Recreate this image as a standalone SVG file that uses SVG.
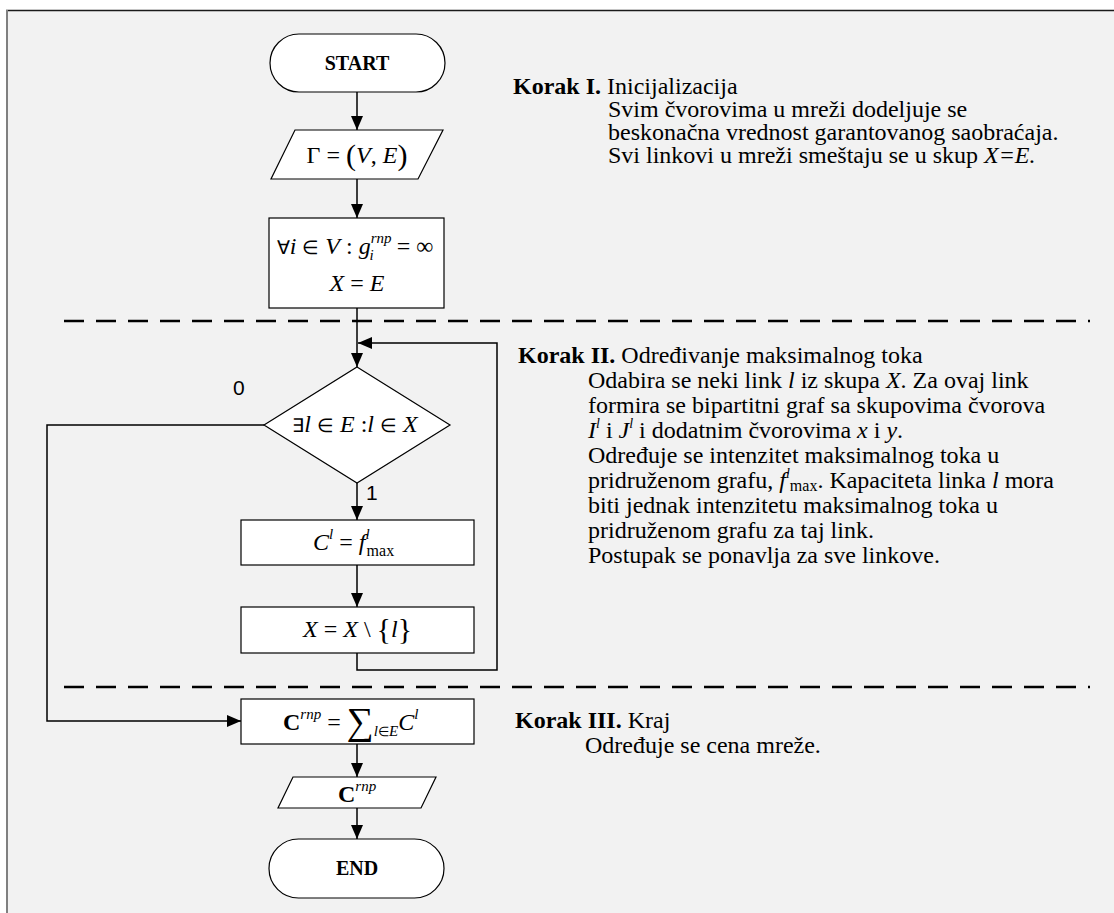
<svg xmlns="http://www.w3.org/2000/svg" width="1114" height="913" viewBox="0 0 1114 913">
  <defs>
    <marker id="arrow" viewBox="0 0 14 12" refX="14" refY="6" markerWidth="14" markerHeight="12" markerUnits="userSpaceOnUse" orient="auto">
      <path d="M0,0 L14,6 L0,12 Z" fill="#000"/>
    </marker>
    <style>
      .shape { fill: #fff; stroke: #000; stroke-width: 1.2; }
      .conn { fill: none; stroke: #000; stroke-width: 1.5; }
      .sep { fill: none; stroke: #000; stroke-width: 2.5; stroke-dasharray: 20 12; }
      .math { font-family: "Liberation Serif", "Times New Roman", serif; font-size: 24px; fill: #000; }
      .it { font-style: italic; }
      .op { font-size: 19px; }
      .term { font-family: "Liberation Serif", "Times New Roman", serif; font-size: 20px; font-weight: bold; fill: #000; }
      .desc { font-family: "Liberation Serif", "Times New Roman", serif; font-size: 24px; fill: #000; }
      .b { font-weight: bold; }
      .lbl { font-family: "Liberation Sans", Arial, sans-serif; font-size: 21px; fill: #000; }
    </style>
  </defs>

  <!-- page background and frame -->
  <rect x="0" y="0" width="1114" height="913" fill="#fff"/>
  <rect x="7" y="11" width="1107" height="902" fill="#f2f2f2"/>
  <line x1="6" y1="10.5" x2="1114" y2="10.5" stroke="#1a1a1a" stroke-width="1.5"/>
  <line x1="7" y1="10" x2="7" y2="913" stroke="#808080" stroke-width="2"/>

  <!-- phase separators -->
  <line class="sep" x1="64" y1="321" x2="1090" y2="321"/>
  <line class="sep" x1="64" y1="687" x2="1090" y2="687"/>

  <!-- connectors -->
  <g id="connectors">
    <path class="conn" d="M357,92 V130" marker-end="url(#arrow)"/>
    <path class="conn" d="M357,179 V218" marker-end="url(#arrow)"/>
    <path class="conn" d="M357,308 V367" marker-end="url(#arrow)"/>
    <path class="conn" d="M357,653 V670 H497 V343 H358" marker-end="url(#arrow)"/>
    <path class="conn" d="M357,483 V520" marker-end="url(#arrow)"/>
    <path class="conn" d="M357,565 V607" marker-end="url(#arrow)"/>
    <path class="conn" d="M264,425 H47 V721 H241" marker-end="url(#arrow)"/>
    <path class="conn" d="M357,744 V777" marker-end="url(#arrow)"/>
    <path class="conn" d="M357,808 V839" marker-end="url(#arrow)"/>
    <text class="lbl" x="233" y="395">0</text>
    <text class="lbl" x="366" y="500">1</text>
  </g>

  <!-- start -->
  <g id="start">
    <rect class="shape" x="270" y="34" width="175" height="58" rx="29" ry="29"/>
    <text class="term" x="357" y="70" text-anchor="middle">START</text>
  </g>

  <!-- input graph -->
  <g id="input-graph">
    <polygon class="shape" points="295,130 443,130 418,179 271,179"/>
    <text class="math" x="357" y="163" text-anchor="middle">Γ = <tspan font-size="30" dy="2">(</tspan><tspan class="it" dy="-2">V</tspan>, <tspan class="it">E</tspan><tspan font-size="30" dy="2">)</tspan></text>
  </g>

  <!-- initialization -->
  <g id="init">
    <rect class="shape" x="269" y="218" width="175" height="90"/>
    <text class="math" x="355" y="254" text-anchor="middle"><tspan class="op">∀</tspan><tspan class="it">i</tspan> <tspan class="op">∈</tspan> <tspan class="it">V</tspan> : <tspan class="it">g</tspan><tspan class="it" font-size="15" dy="-11">rnp</tspan><tspan class="it" font-size="15" dx="-22" dy="17">i</tspan><tspan dx="17" dy="-6"> = ∞</tspan></text>
    <text class="math" x="357" y="291" text-anchor="middle"><tspan class="it">X</tspan> = <tspan class="it">E</tspan></text>
  </g>

  <!-- decision -->
  <g id="decision">
    <polygon class="shape" points="357,367 450,425 357,483 264,425"/>
    <text class="math" x="355" y="432" text-anchor="middle"><tspan class="op">∃</tspan><tspan class="it">l</tspan> <tspan class="op">∈</tspan> <tspan class="it">E</tspan> :<tspan class="it">l</tspan> <tspan class="op">∈</tspan> <tspan class="it">X</tspan></text>
  </g>

  <!-- capacity -->
  <g id="capacity">
    <rect class="shape" x="241" y="520" width="233" height="45"/>
    <text class="math" x="313" y="550"><tspan class="it">C</tspan><tspan class="it" font-size="15" dy="-11">l</tspan><tspan dy="11"> = </tspan><tspan class="it">f</tspan><tspan class="it" font-size="15" dy="-11">l</tspan><tspan font-size="16" dx="-3" dy="17">max</tspan></text>
  </g>

  <!-- remove link -->
  <g id="remove-link">
    <rect class="shape" x="241" y="607" width="233" height="46"/>
    <text class="math" x="303" y="637"><tspan class="it">X</tspan> = <tspan class="it">X</tspan> \ <tspan font-size="30" dy="2">{</tspan><tspan class="it" dy="-2">l</tspan><tspan font-size="30" dy="2">}</tspan></text>
  </g>

  <!-- total cost -->
  <g id="total-cost">
    <rect class="shape" x="241" y="699" width="233" height="45"/>
    <text class="math" x="283" y="730"><tspan font-weight="bold">C</tspan><tspan class="it" font-size="15" dy="-11">rnp</tspan><tspan dy="11"> = </tspan><tspan font-size="38" dy="4">∑</tspan><tspan class="it" font-size="15" dy="2">l</tspan><tspan font-size="13">∈</tspan><tspan class="it" font-size="15">E</tspan><tspan class="it" dy="-6">C</tspan><tspan class="it" font-size="15" dy="-11">l</tspan></text>
  </g>

  <!-- output cost -->
  <g id="output-cost">
    <polygon class="shape" points="293,777 436,777 421,808 278,808"/>
    <text class="math" x="338" y="802"><tspan font-weight="bold">C</tspan><tspan class="it" font-size="15" dy="-11">rnp</tspan></text>
  </g>

  <!-- end -->
  <g id="end">
    <rect class="shape" x="269" y="839" width="175" height="59" rx="29.5" ry="29.5"/>
    <text class="term" x="357" y="875" text-anchor="middle">END</text>
  </g>

  <!-- step descriptions -->
  <g id="step-1">
    <text class="desc" x="513" y="94"><tspan class="b">Korak I.</tspan> Inicijalizacija</text>
    <text class="desc" x="608" y="117">Svim čvorovima u mreži dodeljuje se</text>
    <text class="desc" x="608" y="140">beskonačna vrednost garantovanog saobraćaja.</text>
    <text class="desc" x="608" y="163">Svi linkovi u mreži smeštaju se u skup <tspan class="it">X=E.</tspan></text>
  </g>

  <g id="step-2">
    <text class="desc" x="518" y="363"><tspan class="b">Korak II.</tspan> Određivanje maksimalnog toka</text>
    <text class="desc" x="588" y="388">Odabira se neki link <tspan class="it">l</tspan> iz skupa <tspan class="it">X</tspan>. Za ovaj link</text>
    <text class="desc" x="588" y="413">formira se bipartitni graf sa skupovima čvorova</text>
    <text class="desc" x="588" y="438"><tspan class="it">I</tspan><tspan class="it" font-size="14" dy="-10">l</tspan><tspan dy="10"> i </tspan><tspan class="it">J</tspan><tspan class="it" font-size="14" dy="-10">l</tspan><tspan dy="10"> i dodatnim čvorovima </tspan><tspan class="it">x</tspan> i <tspan class="it">y</tspan>.</text>
    <text class="desc" x="588" y="463">Određuje se intenzitet maksimalnog toka u</text>
    <text class="desc" x="588" y="488">pridruženom grafu, <tspan class="it">f</tspan><tspan class="it" font-size="14" dy="-10">l</tspan><tspan font-size="16" dy="13">max</tspan><tspan dy="-3">. Kapaciteta linka </tspan><tspan class="it">l</tspan> mora</text>
    <text class="desc" x="588" y="513">biti jednak intenzitetu maksimalnog toka u</text>
    <text class="desc" x="588" y="538">pridruženom grafu za taj link.</text>
    <text class="desc" x="588" y="563">Postupak se ponavlja za sve linkove.</text>
  </g>

  <g id="step-3">
    <text class="desc" x="515" y="728"><tspan class="b">Korak III.</tspan> Kraj</text>
    <text class="desc" x="585" y="753">Određuje se cena mreže.</text>
  </g>
</svg>
